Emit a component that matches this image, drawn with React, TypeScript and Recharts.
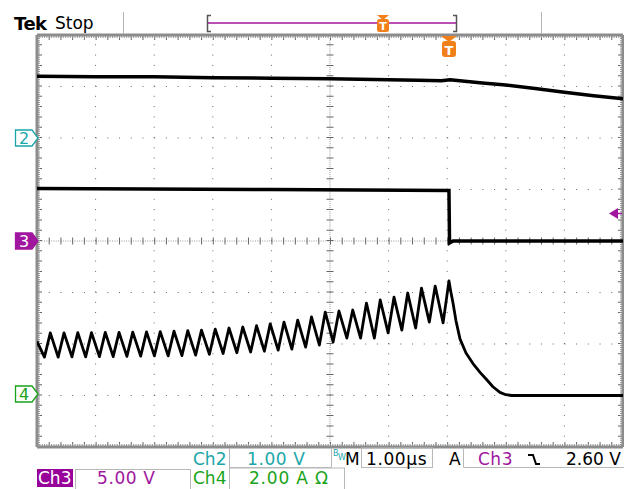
import React from 'react';
import { ComposedChart, Line, XAxis, YAxis, ReferenceLine } from 'recharts';

// ---- data (time in µs relative to trigger) ----
const ch2Time = [-7.0, -6.0, -5.0, -4.0, -3.0, -2.0, -1.0, -0.5, -0.1, 0.05, 0.3, 0.6, 1.0, 1.5, 2.0, 2.5, 3.0];
const ch2Volts = [1.2, 1.19, 1.19, 1.17, 1.16, 1.15, 1.13, 1.12, 1.11, 1.13, 1.1, 1.07, 1.03, 0.96, 0.89, 0.82, 0.76];

const ch3Time = [-7.0, -3.0, 0.03, 0.04, 0.1, 3.0];
const ch3Volts = [5.1, 5.0, 4.9, -0.2, 0.0, 0.0];

const ch4Time = [
  -7.0,
  -6.873, -6.773, -6.639, -6.539, -6.404, -6.304, -6.17, -6.07, -5.935, -5.835,
  -5.7, -5.6, -5.466, -5.366, -5.231, -5.131, -4.997, -4.897, -4.762, -4.662,
  -4.527, -4.427, -4.293, -4.193, -4.058, -3.958, -3.824, -3.724, -3.589, -3.489,
  -3.354, -3.254, -3.12, -3.02, -2.885, -2.785, -2.651, -2.551, -2.416, -2.316,
  -2.181, -2.081, -1.947, -1.847, -1.712, -1.612, -1.478, -1.378, -1.243, -1.143,
  -1.008, -0.908, -0.774, -0.674, -0.539, -0.439, -0.305, -0.205, -0.07, 0.03,
  0.06, 0.099, 0.15, 0.218, 0.321, 0.44, 0.56, 0.679, 0.78, 0.9, 1.0, 1.1, 3.0,
];
const ch4Amps = [
  2.1,
  1.49, 2.43, 1.49, 2.43, 1.5, 2.44, 1.5, 2.44, 1.51, 2.45,
  1.51, 2.45, 1.52, 2.46, 1.53, 2.47, 1.54, 2.48, 1.54, 2.5,
  1.55, 2.52, 1.57, 2.54, 1.6, 2.58, 1.63, 2.62, 1.66, 2.66,
  1.69, 2.71, 1.72, 2.78, 1.76, 2.85, 1.8, 2.93, 1.88, 3.05,
  1.96, 3.24, 2.08, 3.28, 2.23, 3.32, 2.23, 3.59, 2.23, 3.71,
  2.43, 3.82, 2.54, 3.98, 2.62, 4.17, 2.85, 4.25, 2.82, 4.45,
  4.05, 3.59, 2.9, 2.2, 1.65, 1.24, 0.9, 0.6, 0.34, 0.12, 0.03, 0.0, 0.0,
];

const timeDomain: [number, number] = [-7, 3];
const divDomain: [number, number] = [-4, 4];
const ch2Domain: [number, number] = [-6, 2]; // 1.00 V/div, ground at +2 div
const ch3Domain: [number, number] = [-20, 20]; // 5.00 V/div, ground at 0
const ch4Domain: [number, number] = [-2, 14]; // 2.00 A/div, ground at -3 div

const gridX = [-6, -5, -4, -3, -1, 0, 1, 2];
const gridY = [-3, -2, -1, 1, 2, 3];

const zip = (ts: number[], vs: number[]) => ts.map((t, i) => ({ t, v: vs[i] }));
const ch2Data = zip(ch2Time, ch2Volts);
const ch3Data = zip(ch3Time, ch3Volts);
const ch4Data = zip(ch4Time, ch4Amps);

const W = 624;
const H = 489;
const MARGIN = { top: 35, right: 1, bottom: 42, left: 37 };

const TEAL = '#1aa6a8';
const PURPLE = '#a0169e';
const GREEN = '#1aa31a';
const ORANGE = '#f2801a';
const GRID = '#666';
const BORDER = '#8c8c8c';
const FONT = '"DejaVu Sans", Verdana, sans-serif';

const ChannelMarker = ({ y, color, filled, label }: { y: number; color: string; filled: boolean; label: string }) => (
  <g>
    <path
      d={`M15.5 ${y - 8} H32 L38 ${y} L32 ${y + 8} H15.5 Z`}
      fill={filled ? color : '#fff'}
      stroke={color}
      strokeWidth={1.3}
    />
    <text x={24} y={y + 6} textAnchor="middle" fontSize={16} fontFamily={FONT} fill={filled ? '#fff' : color}>
      {label}
    </text>
  </g>
);

export default function App() {
  return (
    <div style={{ position: 'absolute', left: 0, top: 0, width: W, height: H, background: '#fff' }}>
      <ComposedChart width={W} height={H} margin={MARGIN}>
        <XAxis type="number" dataKey="t" domain={timeDomain} hide allowDataOverflow />
        <YAxis type="number" domain={divDomain} hide allowDataOverflow />
        <YAxis yAxisId="ch2" type="number" domain={ch2Domain} hide allowDataOverflow />
        <YAxis yAxisId="ch3" type="number" domain={ch3Domain} hide allowDataOverflow />
        <YAxis yAxisId="ch4" type="number" domain={ch4Domain} hide allowDataOverflow />

        {gridX.map((x) => (
          <ReferenceLine key={`gx${x}`} x={x} stroke={GRID} strokeWidth={1} strokeDasharray="1 9.3" />
        ))}
        {gridY.map((y) => (
          <ReferenceLine key={`gy${y}`} y={y} stroke={GRID} strokeWidth={1} strokeDasharray="1 10.72" />
        ))}

        {/* centre cross */}
        <ReferenceLine x={-2} stroke="#999" strokeWidth={1} strokeDasharray="1 1.06" />
        <ReferenceLine y={0} stroke="#999" strokeWidth={1} strokeDasharray="1 1.344" />
        <ReferenceLine x={-2} stroke={GRID} strokeWidth={7} strokeDasharray="1 9.3" />
        <ReferenceLine y={0} stroke={GRID} strokeWidth={7} strokeDasharray="1 10.72" />

        {/* border ticks */}
        <ReferenceLine x={-7} stroke={GRID} strokeWidth={10} strokeDasharray="1 9.3" ifOverflow="hidden" />
        <ReferenceLine x={3} stroke={GRID} strokeWidth={10} strokeDasharray="1 9.3" ifOverflow="hidden" />
        <ReferenceLine y={4} stroke={GRID} strokeWidth={10} strokeDasharray="1 10.72" ifOverflow="hidden" />
        <ReferenceLine y={-4} stroke={GRID} strokeWidth={10} strokeDasharray="1 10.72" ifOverflow="hidden" />
        <ReferenceLine x={-7} stroke="#999" strokeWidth={6} strokeDasharray="1 1.06" ifOverflow="hidden" />
        <ReferenceLine x={3} stroke="#999" strokeWidth={6} strokeDasharray="1 1.06" ifOverflow="hidden" />
        <ReferenceLine y={4} stroke="#999" strokeWidth={6} strokeDasharray="1 1.344" ifOverflow="hidden" />
        <ReferenceLine y={-4} stroke="#999" strokeWidth={6} strokeDasharray="1 1.344" ifOverflow="hidden" />

        {/* border */}
        <ReferenceLine x={-7} stroke={BORDER} strokeWidth={3} />
        <ReferenceLine x={3} stroke={BORDER} strokeWidth={3} />
        <ReferenceLine y={4} stroke={BORDER} strokeWidth={3} />
        <ReferenceLine y={-4} stroke={BORDER} strokeWidth={3} />

        <Line data={ch2Data} dataKey="v" yAxisId="ch2" type="linear" dot={false} stroke="#000" strokeWidth={3.5} isAnimationActive={false} />
        <Line data={ch3Data} dataKey="v" yAxisId="ch3" type="linear" dot={false} stroke="#000" strokeWidth={3.5} isAnimationActive={false} />
        <Line data={ch4Data} dataKey="v" yAxisId="ch4" type="linear" dot={false} stroke="#000" strokeWidth={2.8} strokeLinejoin="round" isAnimationActive={false} />
      </ComposedChart>

      <svg width={W} height={H} style={{ position: 'absolute', left: 0, top: 0, pointerEvents: 'none' }}>
        {/* header */}
        <text x={14} y={30} fontSize={18} fontWeight="bold" fontFamily={FONT} fill="#000" letterSpacing={-0.5}>Tek</text>
        <text x={55} y={29} fontSize={17} fontFamily={FONT} fill="#000">Stop</text>
        <line x1={123.5} y1={12} x2={123.5} y2={34} stroke="#b5b5b5" strokeWidth={1} />
        <line x1={541.5} y1={12} x2={541.5} y2={34} stroke="#b5b5b5" strokeWidth={1} />
        <line x1={208} y1={23} x2={456} y2={23} stroke={PURPLE} strokeWidth={1.5} />
        <path d="M211 15.5 H207.5 V31.5 H211" fill="none" stroke="#555" strokeWidth={1.5} />
        <path d="M453 15.5 H456.5 V31.5 H453" fill="none" stroke="#555" strokeWidth={1.5} />
        <path d="M377 15 L389 15 L383 20 Z" fill={ORANGE} />
        <rect x={377} y={19} width={12} height={13} rx={2.5} fill={ORANGE} />
        <text x={383} y={30} textAnchor="middle" fontSize={11} fontWeight="bold" fontFamily={FONT} fill="#fff">T</text>

        {/* trigger position marker */}
        <path d="M441 36 L457 36 L449 42 Z" fill={ORANGE} />
        <rect x={442} y={41} width={14} height={16} rx={3} fill={ORANGE} />
        <text x={449} y={55} textAnchor="middle" fontSize={13} fontWeight="bold" fontFamily={FONT} fill="#fff">T</text>

        {/* trigger level marker */}
        <path d="M609 213.5 L618 208 L618 219 Z" fill={PURPLE} />
        <line x1={617} y1={213.5} x2={622} y2={213.5} stroke={PURPLE} strokeWidth={1.5} />

        {/* channel ground markers */}
        <ChannelMarker y={138} color={TEAL} filled={false} label="2" />
        <ChannelMarker y={241} color={PURPLE} filled label="3" />
        <ChannelMarker y={394} color={GREEN} filled={false} label="4" />

        {/* readouts row 1 */}
        <text x={193} y={465} fontSize={17} fontFamily={FONT} fill={TEAL}>Ch2</text>
        <path d="M229.5 448 V467.5 H331.5 V448" fill="none" stroke="#b8b8b8" strokeWidth={1} />
        <text x={247} y={465} fontSize={17} fontFamily={FONT} fill={TEAL} letterSpacing={0.6}>1.00 V</text>
        <text x={333} y={456} fontSize={8} fontFamily={FONT} fill={TEAL}>B</text>
        <text x={338} y={460} fontSize={8} fontFamily={FONT} fill={TEAL}>W</text>
        <text x={345} y={465} fontSize={17} fontFamily={FONT} fill="#000">M</text>
        <rect x={361.5} y={448} width={71} height={19.5} fill="none" stroke="#b8b8b8" strokeWidth={1} />
        <text x={366} y={465} fontSize={17} fontFamily={FONT} fill="#000" letterSpacing={0.6}>1.00µs</text>
        <text x={449} y={465} fontSize={17} fontFamily={FONT} fill="#000">A</text>
        <path d="M463.5 448 V467.5 H624" fill="none" stroke="#b8b8b8" strokeWidth={1} />
        <text x={478} y={465} fontSize={17} fontFamily={FONT} fill={PURPLE} letterSpacing={0.5}>Ch3</text>
        <path d="M528 455 H533 L536 464 H540" fill="none" stroke="#000" strokeWidth={2} />
        <text x={566} y={465} fontSize={17} fontFamily={FONT} fill="#000">2.60 V</text>

        {/* readouts row 2 */}
        <rect x={37} y={469} width={36} height={18} fill="#98009a" />
        <text x={38} y={484} fontSize={17} fontFamily={FONT} fill="#fff">Ch3</text>
        <rect x={75.5} y={469.5} width={115} height={22} fill="none" stroke="#b8b8b8" strokeWidth={1} />
        <text x={97} y={484} fontSize={17} fontFamily={FONT} fill={PURPLE} letterSpacing={0.6}>5.00 V</text>
        <text x={193} y={484} fontSize={17} fontFamily={FONT} fill={GREEN}>Ch4</text>
        <rect x={229.5} y={468} width={115} height={23} fill="none" stroke="#b8b8b8" strokeWidth={1} />
        <text x={249} y={484} fontSize={17} fontFamily={FONT} fill={GREEN} letterSpacing={0.8}>2.00 A Ω</text>
      </svg>
    </div>
  );
}
